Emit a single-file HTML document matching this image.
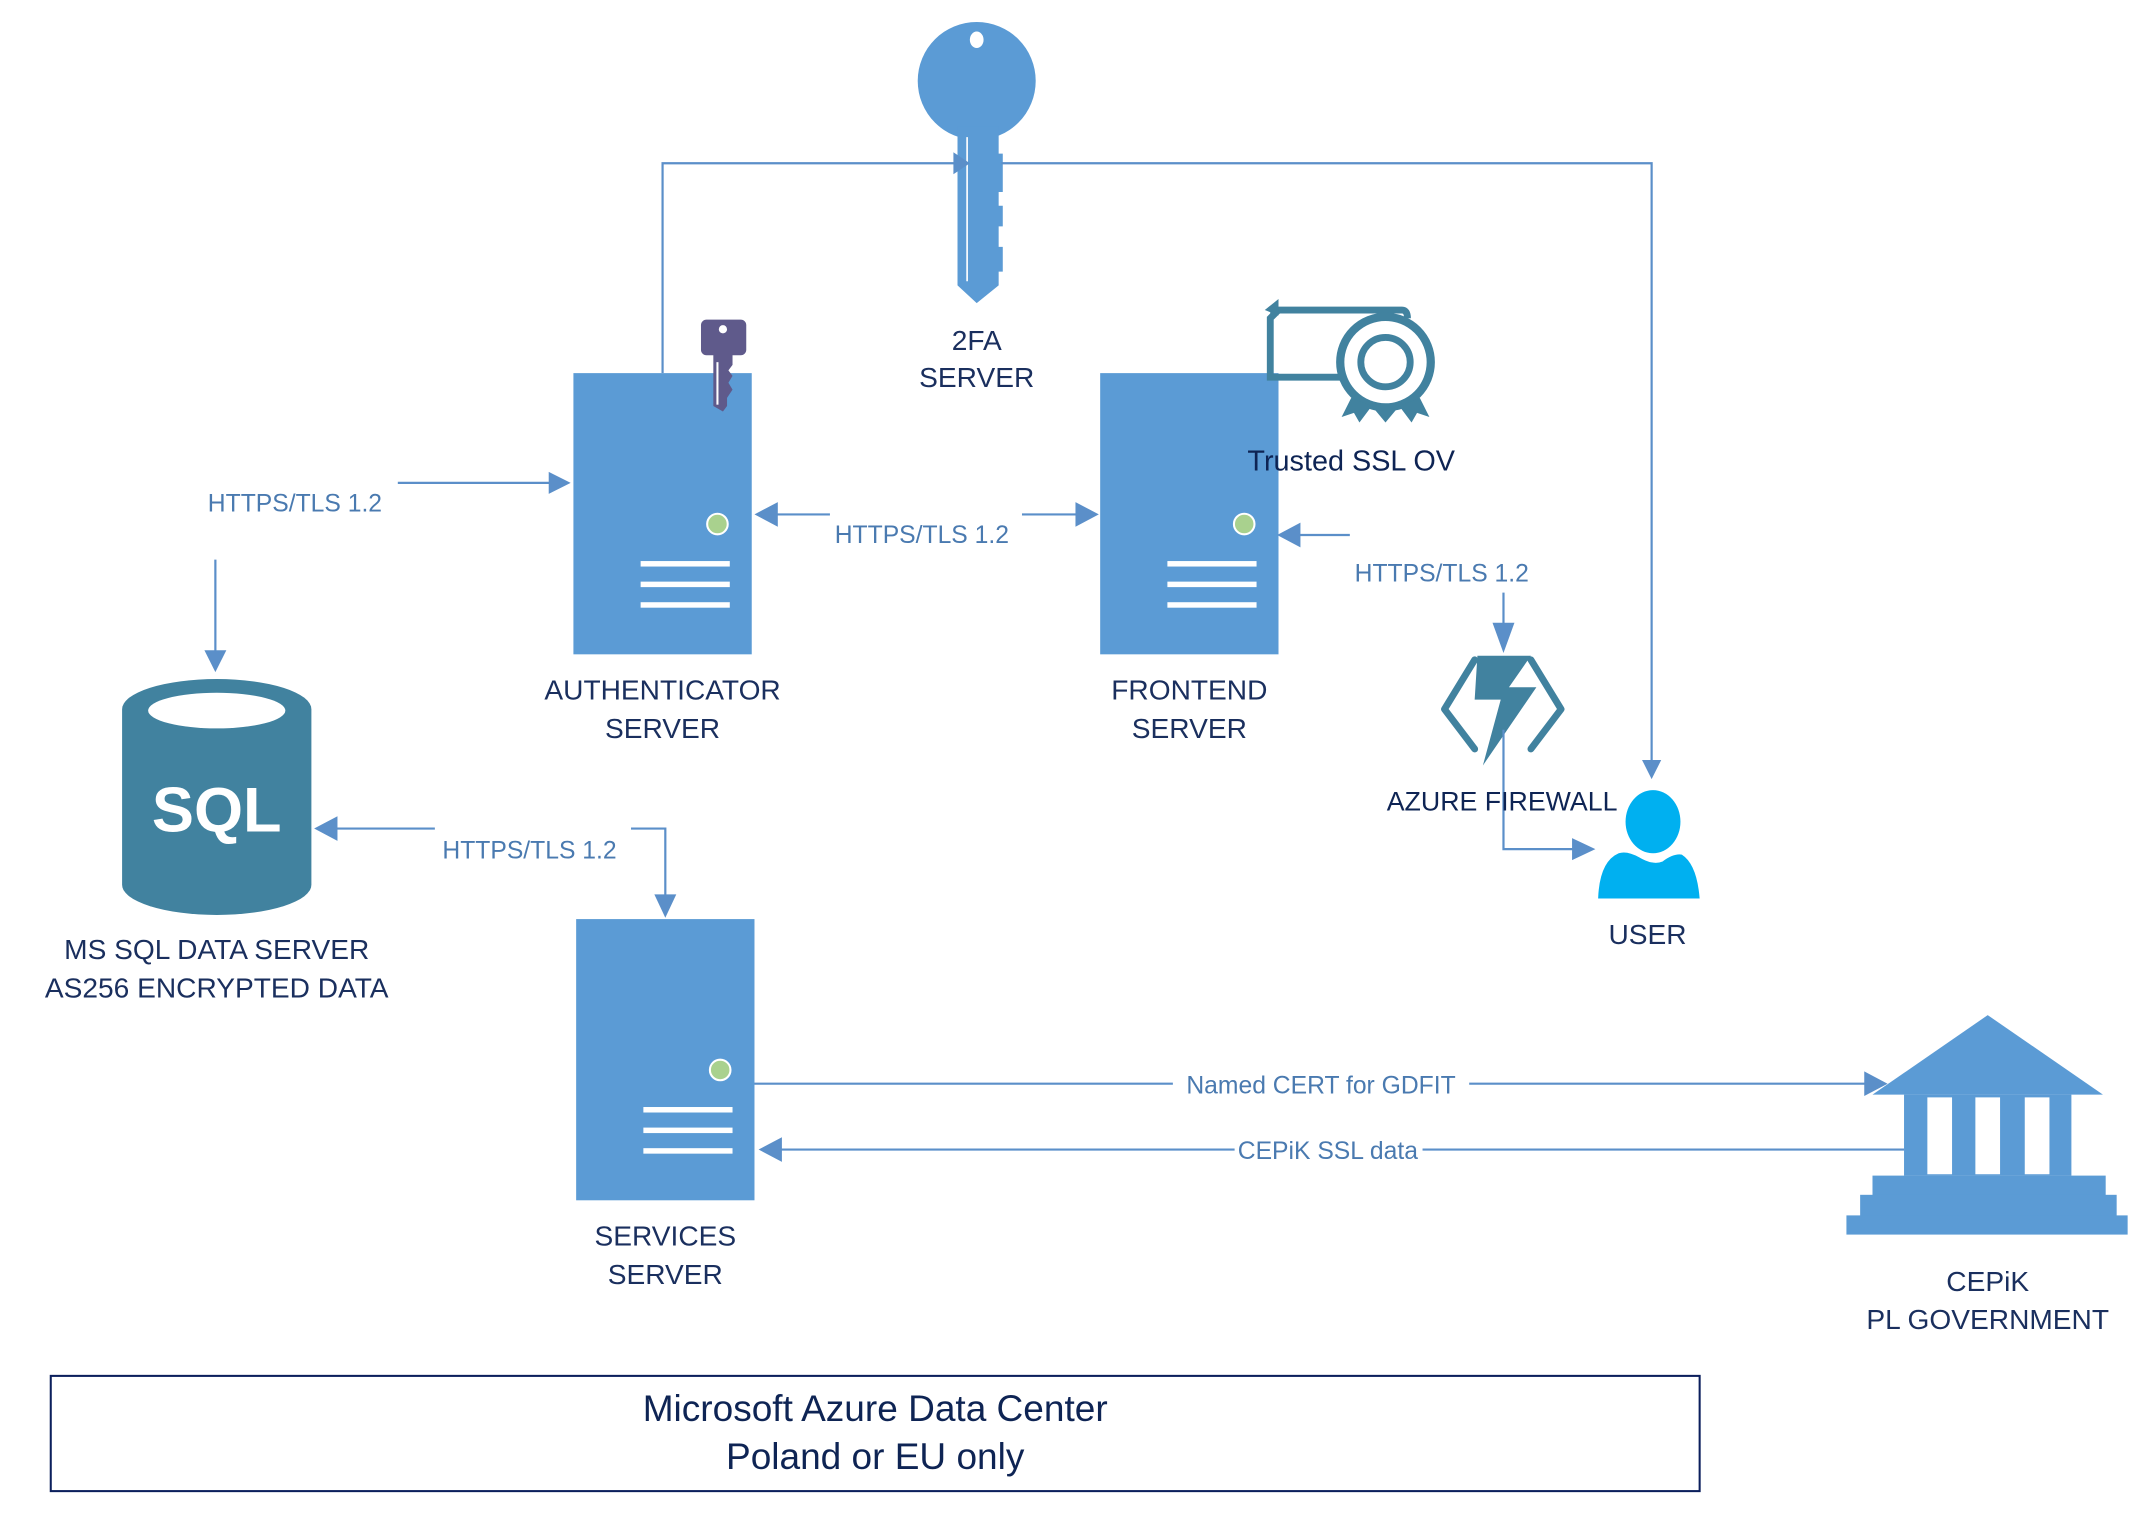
<!DOCTYPE html>
<html><head><meta charset="utf-8"><style>
html,body{margin:0;padding:0;background:#fff;}
svg{display:block;}
text{font-family:"Liberation Sans",sans-serif;}
.lb{fill:#1a2f5e;font-size:20.5px;text-anchor:middle;}
.hl{fill:#4a7ab0;font-size:18px;text-anchor:middle;}
.ln{stroke:#5b8fc9;stroke-width:1.6;fill:none;}
.ah{fill:#5b8fc9;}
</style></head><body>
<svg width="2150" height="1518" viewBox="0 0 1567.3 1106.6" preserveAspectRatio="none" xmlns="http://www.w3.org/2000/svg">
<rect width="1568" height="1107" fill="#fff"/>
<!-- big key -->
<ellipse cx="712" cy="59" rx="43" ry="43" fill="#5b9bd5"/>
<path d="M698 92 H728 V112 H731 V140 H728 V150 H731 V165 H728 V180 H731 V198 H728 V208 L712 221 L698 208 Z" fill="#5b9bd5"/>
<ellipse cx="712" cy="29" rx="5" ry="6" fill="#fff"/>
<line x1="705" y1="100" x2="705" y2="205" stroke="#fff" stroke-width="1.2"/>
<!-- 2FA connector -->
<path class="ln" d="M483 272 V119 H698"/>
<path class="ah" d="M695 111 L707 119 L695 127 Z"/>
<path class="ln" d="M730 119 H1204 V556"/>
<path class="ah" d="M1197 554 L1204 568 L1211 554 Z"/>
<text class="lb" x="712" y="255">2FA</text>
<text class="lb" x="712" y="282">SERVER</text>
<!-- Auth server -->
<rect x="418" y="272" width="130" height="205" fill="#5b9bd5"/>
<circle cx="523" cy="382" r="7.5" fill="#a9d18e" stroke="#fff" stroke-width="1.5"/>
<rect x="467" y="409" width="65" height="4" fill="#fff"/>
<rect x="467" y="424" width="65" height="4" fill="#fff"/>
<rect x="467" y="439" width="65" height="4" fill="#fff"/>
<!-- purple key -->
<rect x="511" y="233" width="33" height="26" rx="4" fill="#5f5a8b"/>
<circle cx="527" cy="240" r="3" fill="#fff"/>
<path d="M520 258 H534 V266 L531 270 L534 274 L531 279 L534 284 L530 290 V296 L527 300 L520 296 Z" fill="#5f5a8b"/>
<line x1="523" y1="264" x2="523" y2="295" stroke="#fff" stroke-width="1.5"/>
<text class="lb" x="483" y="510">AUTHENTICATOR</text>
<text class="lb" x="483" y="538">SERVER</text>
<!-- Frontend server -->
<rect x="802" y="272" width="130" height="205" fill="#5b9bd5"/>
<circle cx="907" cy="382" r="7.5" fill="#a9d18e" stroke="#fff" stroke-width="1.5"/>
<rect x="851" y="409" width="65" height="4" fill="#fff"/>
<rect x="851" y="424" width="65" height="4" fill="#fff"/>
<rect x="851" y="439" width="65" height="4" fill="#fff"/>
<text class="lb" x="867" y="510">FRONTEND</text>
<text class="lb" x="867" y="538">SERVER</text>
<!-- cert -->
<path d="M932 226 L926 232 V275 H982" stroke="#41829f" stroke-width="5" fill="none"/>
<path d="M926 226 H1022 Q1026 226 1026 232" stroke="#41829f" stroke-width="5" fill="none"/>
<path d="M922 226 L932 218 V230 Z" fill="#41829f"/>
<circle cx="1010" cy="264" r="33" fill="#fff" stroke="#41829f" stroke-width="6"/>
<circle cx="1010" cy="264" r="18" fill="#fff" stroke="#41829f" stroke-width="5"/>
<path d="M985 290 L978 304 L987 301 L991 308 L1000 296 Z M1035 290 L1042 304 L1033 301 L1029 308 L1020 296 Z M1000 296 L1010 308 L1020 296 Z" fill="#41829f"/>
<text x="985" y="343" style="fill:#0e2454;font-size:21px;text-anchor:middle">Trusted SSL OV</text>
<!-- HTTPS left -->
<text class="hl" x="215" y="373">HTTPS/TLS 1.2</text>
<path class="ln" d="M290 352 H403"/>
<path class="ah" d="M400 344 L416 352 L400 360 Z"/>
<path class="ln" d="M157 408 V478"/>
<path class="ah" d="M149 474 L157 490 L165 474 Z"/>
<!-- auth <-> frontend -->
<path class="ln" d="M563 375 H605 M745 375 H788"/>
<path class="ah" d="M550 375 L567 366 L567 384 Z"/>
<path class="ah" d="M801 375 L784 366 L784 384 Z"/>
<text class="hl" x="672" y="396">HTTPS/TLS 1.2</text>
<!-- frontend right -->
<path class="ln" d="M944 390 H984"/>
<path class="ah" d="M931 390 L948 381 L948 399 Z"/>
<text class="hl" x="1051" y="424">HTTPS/TLS 1.2</text>
<path class="ln" d="M1096 432 V462"/>
<path class="ah" d="M1088 454 L1096 476 L1104 454 Z"/>
<!-- firewall -->
<path d="M1077 478 H1116 L1100 501 H1120 L1081 558 L1094 510 H1075 Z" fill="#41829f"/>
<path d="M1075 481 L1053 517 L1075 546" stroke="#41829f" stroke-width="5" stroke-linecap="round" stroke-linejoin="round" fill="none"/>
<path d="M1116 481 L1138 517 L1116 546" stroke="#41829f" stroke-width="5" stroke-linecap="round" stroke-linejoin="round" fill="none"/>
<path class="ln" d="M1096 532 V619 H1150"/>
<path class="ah" d="M1146 611 L1163 619 L1146 627 Z"/>
<text x="1095" y="591" style="fill:#0e2454;font-size:19.5px;text-anchor:middle">AZURE FIREWALL</text>
<!-- user -->
<ellipse cx="1205" cy="599" rx="20" ry="23" fill="#00b0f0"/>
<path d="M1165 655 Q1166 628 1180 622 Q1186 620 1195 625 Q1205 631 1212 628 Q1220 622 1226 623 Q1237 630 1239 655 Z" fill="#00b0f0"/>
<text class="lb" x="1201" y="688">USER</text>
<!-- SQL -->
<path d="M89 517 A69 22 0 0 1 227 517 V645 A69 22 0 0 1 89 645 Z" fill="#41829f"/>
<ellipse cx="158" cy="518" rx="50" ry="13" fill="#fff"/>
<text x="158" y="606" style="fill:#fff;font-size:46px;font-weight:bold;text-anchor:middle">SQL</text>
<text class="lb" x="158" y="699">MS SQL DATA SERVER</text>
<text class="lb" x="158" y="727">AS256 ENCRYPTED DATA</text>
<!-- SQL <-> services -->
<path class="ln" d="M243 604 H317 M460 604 H485 V655"/>
<path class="ah" d="M229 604 L246 595 L246 613 Z"/>
<path class="ah" d="M477 652 L485 669 L493 652 Z"/>
<text class="hl" x="386" y="626">HTTPS/TLS 1.2</text>
<!-- services server -->
<rect x="420" y="670" width="130" height="205" fill="#5b9bd5"/>
<circle cx="525" cy="780" r="7.5" fill="#a9d18e" stroke="#fff" stroke-width="1.5"/>
<rect x="469" y="807" width="65" height="4" fill="#fff"/>
<rect x="469" y="822" width="65" height="4" fill="#fff"/>
<rect x="469" y="837" width="65" height="4" fill="#fff"/>
<text class="lb" x="485" y="908">SERVICES</text>
<text class="lb" x="485" y="936">SERVER</text>
<!-- CEPiK links -->
<path class="ln" d="M550 790 H855 M1071 790 H1362"/>
<path class="ah" d="M1359 781 L1376 790 L1359 799 Z"/>
<text class="hl" x="963" y="797">Named CERT for GDFIT</text>
<path class="ln" d="M568 838 H900 M1037 838 H1388"/>
<path class="ah" d="M553 838 L570 829 L570 847 Z"/>
<text class="hl" x="968" y="845">CEPiK SSL data</text>
<!-- building -->
<path d="M1449 740 L1533 798 H1365 Z" fill="#5b9bd5"/>
<path d="M1388 798 H1510 V857 H1388 Z M1405 800 V856 H1423 V800 Z M1440 800 V856 H1458 V800 Z M1476 800 V856 H1494 V800 Z" fill="#5b9bd5" fill-rule="evenodd"/>
<rect x="1365" y="857" width="170" height="15" fill="#5b9bd5"/>
<rect x="1356" y="871" width="187" height="16" fill="#5b9bd5"/>
<rect x="1346" y="886" width="205" height="14" fill="#5b9bd5"/>
<text class="lb" x="1449" y="941">CEPiK</text>
<text class="lb" x="1449" y="969">PL GOVERNMENT</text>
<!-- bottom box -->
<rect x="37" y="1003" width="1202" height="84" fill="none" stroke="#0b1f5c" stroke-width="1.5"/>
<text x="638" y="1036" style="fill:#0e2454;font-size:27px;text-anchor:middle">Microsoft Azure Data Center</text>
<text x="638" y="1071" style="fill:#0e2454;font-size:27px;text-anchor:middle">Poland or EU only</text>
</svg>
</body></html>
